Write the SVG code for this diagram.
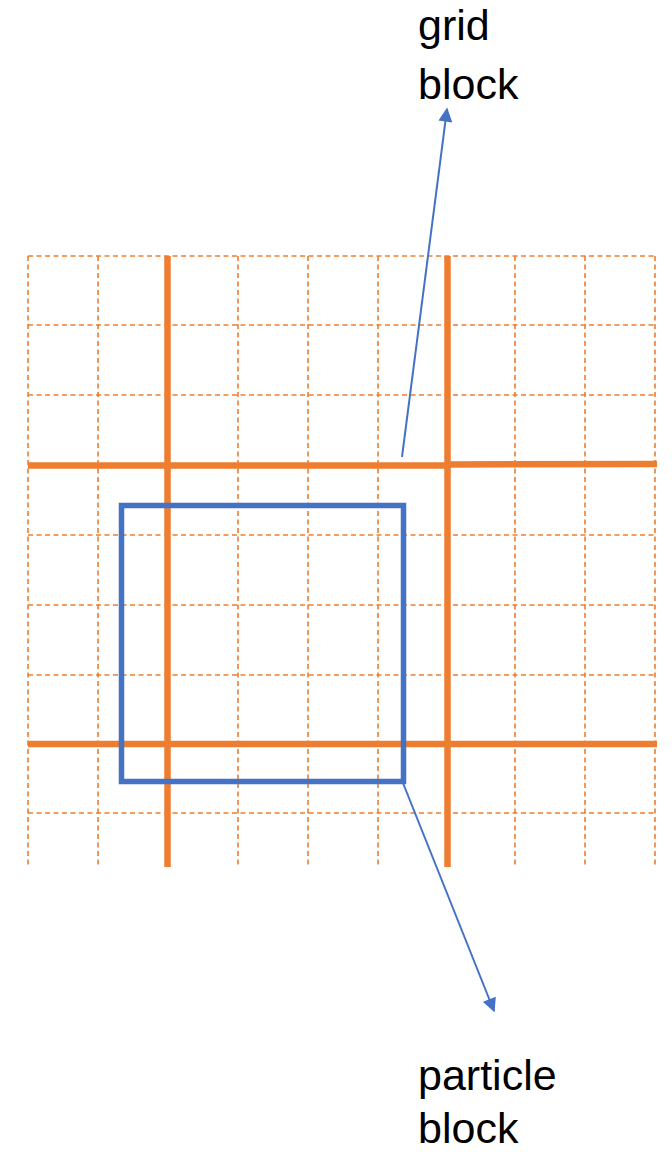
<svg xmlns="http://www.w3.org/2000/svg" width="672" height="1152" viewBox="0 0 672 1152">
<style>
.d{stroke:#ED7D31;stroke-width:1.6;stroke-dasharray:5 3.5;fill:none}
.t{stroke:#ED7D31;stroke-width:6.5;fill:none}
.b{stroke:#4472C4;stroke-width:5.5;fill:none}
.c{stroke:#4472C4;stroke-width:2;fill:none}
.l{font-family:"Liberation Sans",Arial,sans-serif;font-size:43px;fill:#000}
</style>
<defs>
<marker id="ah" viewBox="0 0 10 10" refX="9" refY="5" markerWidth="8" markerHeight="7" orient="auto" markerUnits="strokeWidth">
<path d="M0,0 L10,5 L0,10 z" fill="#4472C4"/>
</marker>
</defs>
<g id="grid">
<g id="dashed-v">
<line class="d" x1="28" y1="256" x2="28" y2="867"/>
<line class="d" x1="98" y1="256" x2="98" y2="867"/>
<line class="d" x1="238" y1="256" x2="238" y2="867"/>
<line class="d" x1="308" y1="256" x2="308" y2="867"/>
<line class="d" x1="378" y1="256" x2="378" y2="867"/>
<line class="d" x1="515" y1="256" x2="515" y2="867"/>
<line class="d" x1="585" y1="256" x2="585" y2="867"/>
<line class="d" x1="655" y1="256" x2="655" y2="867"/>
</g>
<g id="dashed-h">
<line class="d" x1="28" y1="256" x2="656" y2="256"/>
<line class="d" x1="28" y1="325" x2="656" y2="325"/>
<line class="d" x1="28" y1="395" x2="656" y2="395"/>
<line class="d" x1="28" y1="535" x2="656" y2="535"/>
<line class="d" x1="28" y1="605" x2="656" y2="605"/>
<line class="d" x1="28" y1="675" x2="656" y2="675"/>
<line class="d" x1="28" y1="813" x2="656" y2="813"/>
</g>
<g id="thick">
<line class="t" x1="167.5" y1="256" x2="167.5" y2="867"/>
<line class="t" x1="447.5" y1="256" x2="447.5" y2="867"/>
<line class="t" x1="28" y1="465.5" x2="447" y2="465.5"/>
<line class="t" x1="447" y1="464.5" x2="657" y2="464"/>
<line class="t" x1="28" y1="744" x2="657" y2="744"/>
</g>
</g>
<g id="particle-block-rect">
<rect class="b" x="121.5" y="505.5" width="282" height="276"/>
</g>
<g id="connectors">
<line class="c" x1="402" y1="457" x2="447" y2="109" marker-end="url(#ah)"/>
<line class="c" x1="403" y1="783" x2="494" y2="1011" marker-end="url(#ah)"/>
</g>
<g id="label-grid-block">
<text class="l" x="418" y="40">grid</text>
<text class="l" x="418" y="99">block</text>
</g>
<g id="label-particle-block">
<text class="l" x="418" y="1090">particle</text>
<text class="l" x="418" y="1143">block</text>
</g>
</svg>
